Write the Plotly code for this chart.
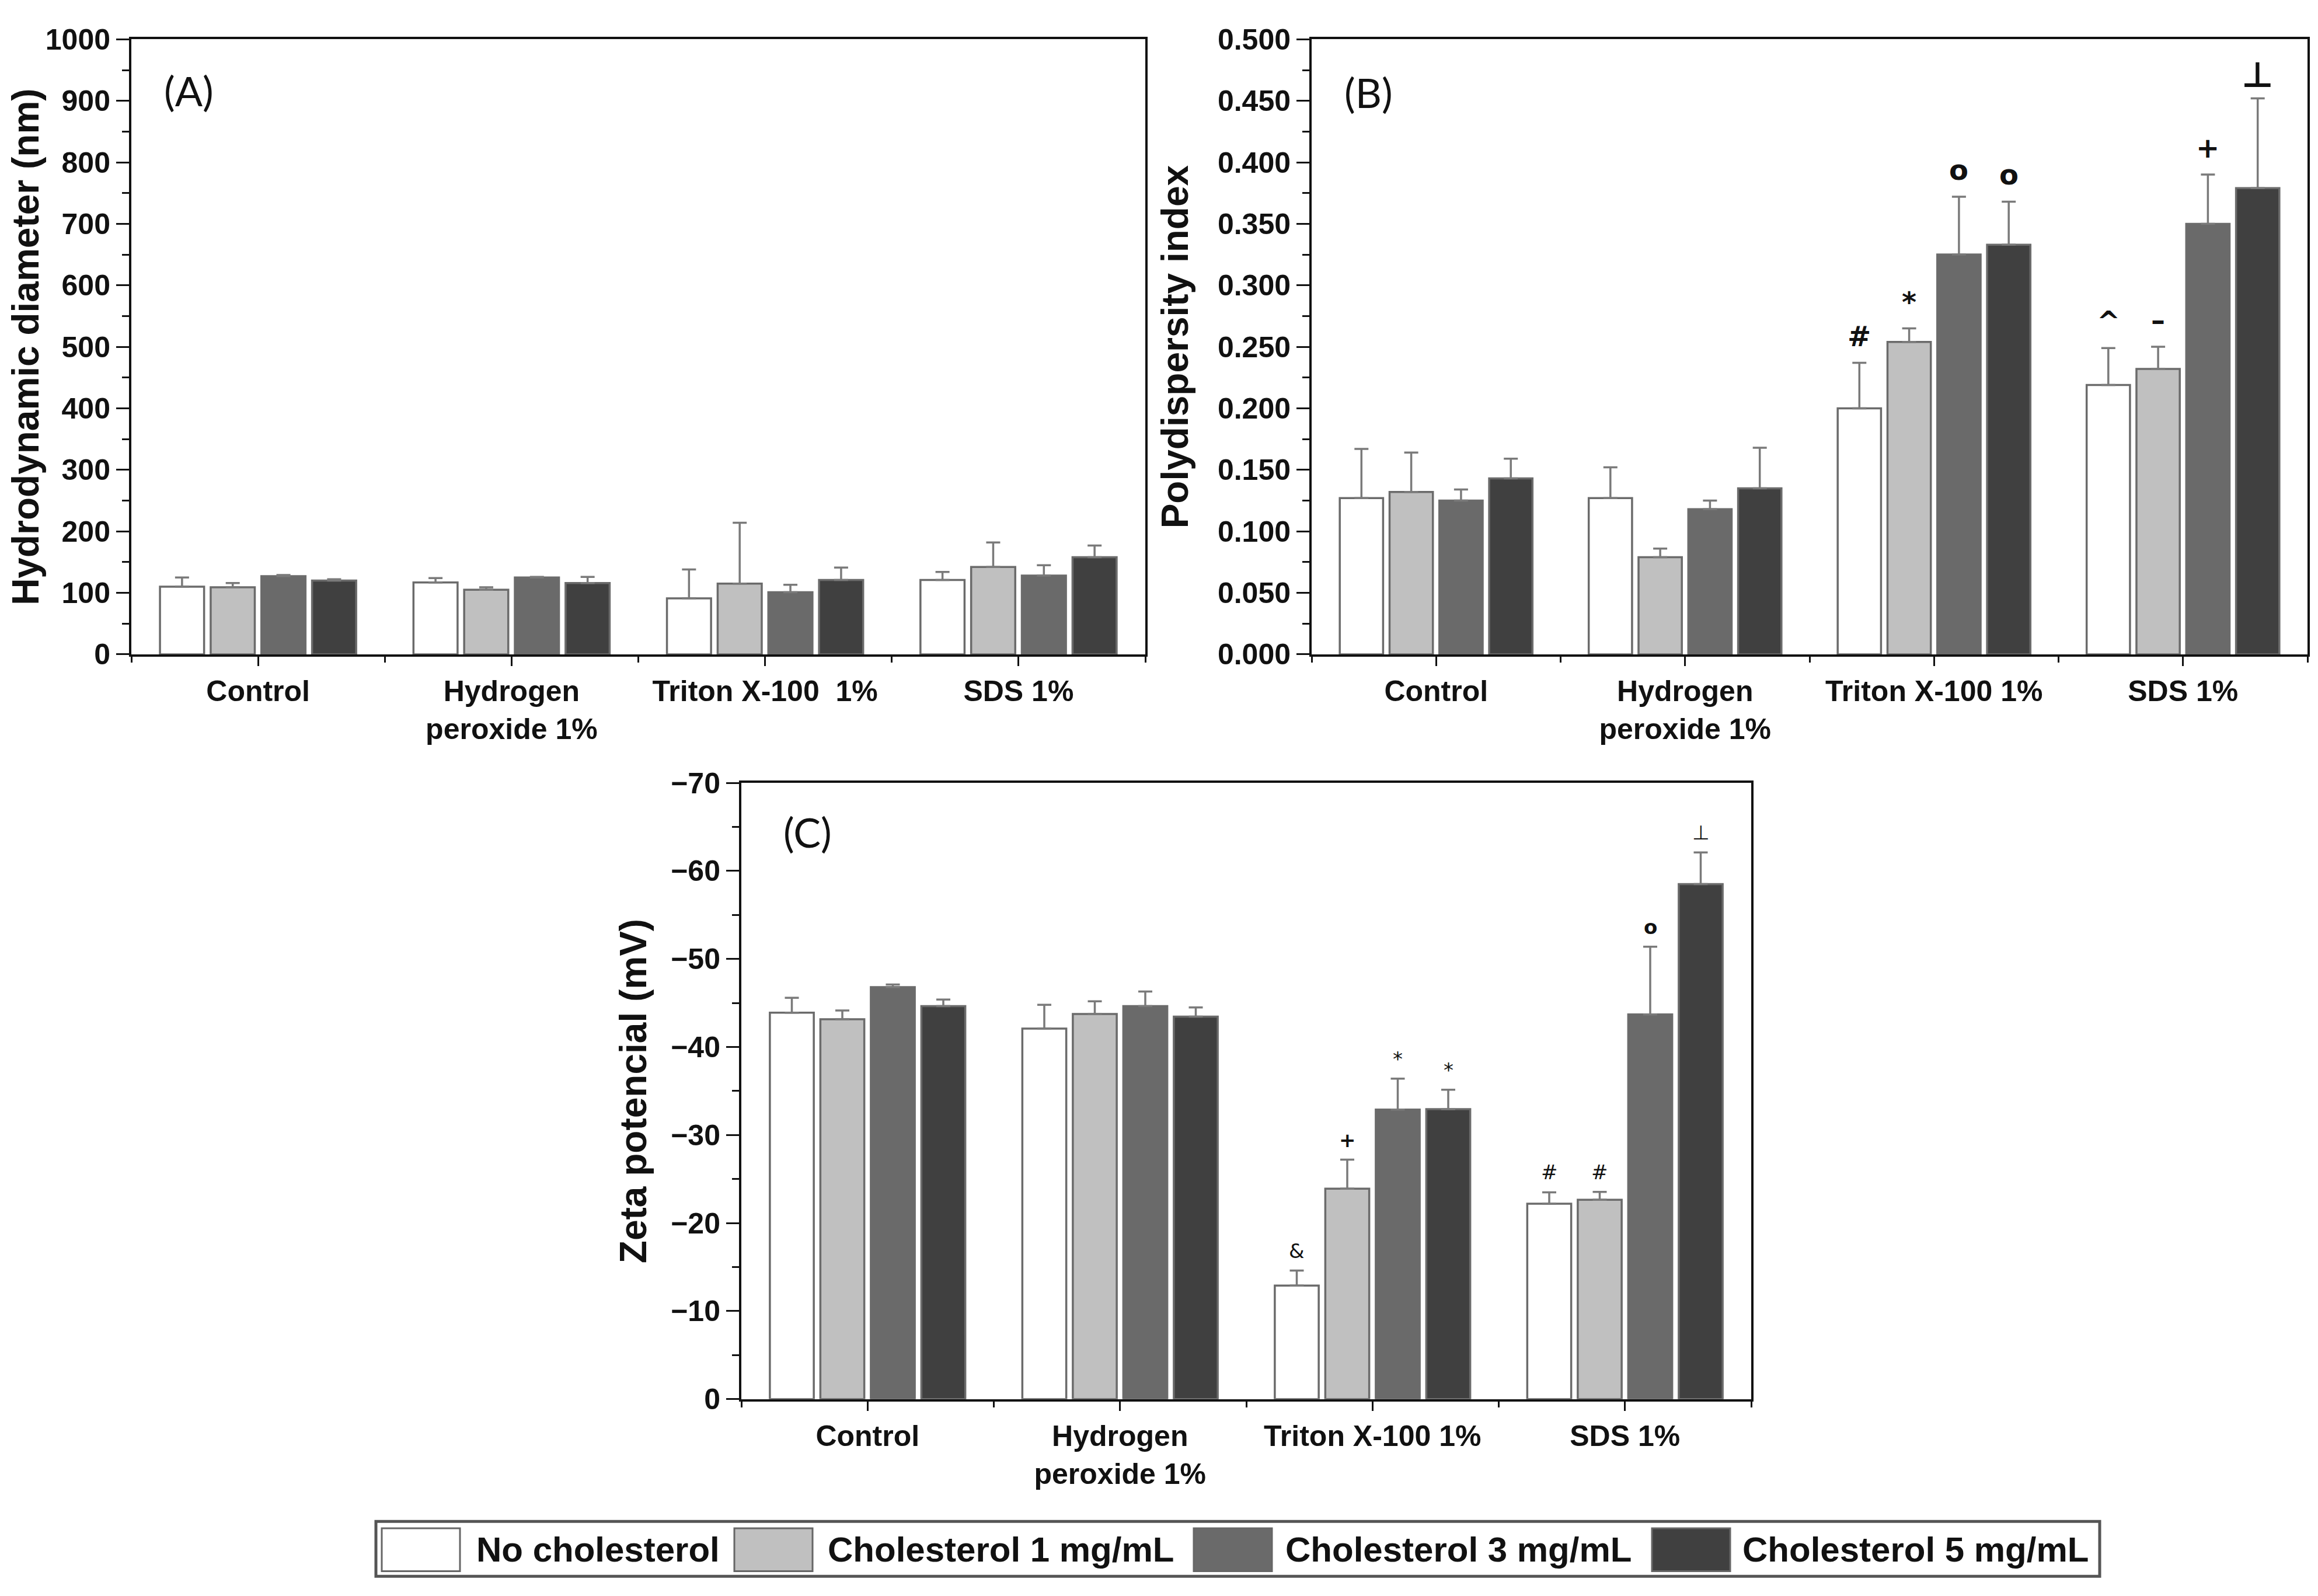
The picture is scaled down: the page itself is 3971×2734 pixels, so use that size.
import plotly.graph_objects as go

W, H = 3971, 2734

# ---- data ----
categories = ["Control", "Hydrogen<br>peroxide 1%", "Triton X-100 1%", "SDS 1%"]
categories_a = ["Control", "Hydrogen<br>peroxide 1%", "Triton X-100\u00a0 1%", "SDS 1%"]
series_names = ["No cholesterol", "Cholesterol 1 mg/mL", "Cholesterol 3 mg/mL", "Cholesterol 5 mg/mL"]
series_colors = ["#ffffff", "#c0c0c0", "#6a6a6a", "#404040"]

# (A) hydrodynamic diameter, nm
diam_no_chol = [110, 117, 91, 121]
diam_no_chol_err = [15, 7, 47, 13]
diam_chol1 = [109, 105, 115, 142]
diam_chol1_err = [7, 4, 99, 40]
diam_chol3 = [127, 125, 101, 128]
diam_chol3_err = [2, 1, 12, 17]
diam_chol5 = [120, 116, 121, 158]
diam_chol5_err = [2, 10, 20, 19]

# (B) polydispersity index
pdi_no_chol = [0.127, 0.127, 0.200, 0.219]
pdi_no_chol_err = [0.040, 0.025, 0.037, 0.030]
pdi_chol1 = [0.132, 0.079, 0.254, 0.232]
pdi_chol1_err = [0.032, 0.007, 0.011, 0.018]
pdi_chol3 = [0.125, 0.118, 0.325, 0.350]
pdi_chol3_err = [0.009, 0.007, 0.047, 0.040]
pdi_chol5 = [0.143, 0.135, 0.333, 0.379]
pdi_chol5_err = [0.016, 0.033, 0.035, 0.073]

# (C) zeta potential, mV
zeta_no_chol = [-43.9, -42.1, -12.9, -22.2]
zeta_no_chol_err = [1.7, 2.7, 1.7, 1.3]
zeta_chol1 = [-43.15, -43.75, -23.9, -22.65]
zeta_chol1_err = [1.0, 1.45, 3.3, 0.9]
zeta_chol3 = [-46.8, -44.65, -32.9, -43.7]
zeta_chol3_err = [0.3, 1.65, 3.5, 7.7]
zeta_chol5 = [-44.65, -43.45, -32.95, -58.5]
zeta_chol5_err = [0.75, 1.05, 2.2, 3.6]

# significance marks: (group, series, symbol)
marks_b = [(2, 0, "#"), (2, 1, "*"), (2, 2, "o"), (2, 3, "o"),
           (3, 0, "^"), (3, 1, "\u2013"), (3, 2, "+"), (3, 3, "\u22a5")]
marks_c = [(2, 0, "&"), (2, 1, "+"), (2, 2, "*"), (2, 3, "*"),
           (3, 0, "#"), (3, 1, "#"), (3, 2, "o"), (3, 3, "\u22a5")]

BOLD = "Arial, Liberation Sans, sans-serif"
xpos = list(range(len(categories)))
offsets = [-0.3, -0.1, 0.1, 0.3]


def px(x):
    return x / W


def py(y):
    return 1 - y / H


fig = go.Figure()

panels = [
    ("x", "y", [diam_no_chol, diam_chol1, diam_chol3, diam_chol5],
     [diam_no_chol_err, diam_chol1_err, diam_chol3_err, diam_chol5_err], False),
    ("x2", "y2", [pdi_no_chol, pdi_chol1, pdi_chol3, pdi_chol5],
     [pdi_no_chol_err, pdi_chol1_err, pdi_chol3_err, pdi_chol5_err], False),
    ("x3", "y3", [zeta_no_chol, zeta_chol1, zeta_chol3, zeta_chol5],
     [zeta_no_chol_err, zeta_chol1_err, zeta_chol3_err, zeta_chol5_err], True),
]

for xa, ya, vals, errs, negative in panels:
    for name, color, v, e in zip(series_names, series_colors, vals, errs):
        zeros = [0] * len(e)
        fig.add_trace(go.Bar(
            x=xpos, y=v, name=name, xaxis=xa, yaxis=ya, showlegend=False,
            marker=dict(color=color, line=dict(color="#6b6b6b", width=3.5)),
            error_y=dict(type="data", symmetric=False,
                         array=zeros if negative else e,
                         arrayminus=e if negative else zeros,
                         color="#7a7a7a", thickness=3.5, width=12),
        ))

axis_common = dict(showline=True, linewidth=4, linecolor="#111", mirror=True,
                   showgrid=False, zeroline=False, ticks="outside",
                   tickwidth=3, tickcolor="#111")
xaxis_common = dict(axis_common, range=[-0.5, 3.5], tickmode="array",
                    tickvals=xpos, ticklen=16,
                    tickfont=dict(family=BOLD, size=50, color="#111", weight="bold"),
                    minor=dict(tickmode="array", tickvals=[-0.5, 0.5, 1.5, 2.5, 3.5],
                               ticks="outside", ticklen=10, tickwidth=3, tickcolor="#111"))
title_font = dict(family=BOLD, size=64, color="#111", weight="bold")
ytick_font = dict(family=BOLD, size=50, color="#111", weight="bold")

fig.update_layout(
    width=W, height=H,
    margin=dict(l=0, r=0, t=0, b=0),
    paper_bgcolor="white", plot_bgcolor="white",
    barmode="group", bargap=0.2, bargroupgap=0.13,
    xaxis=dict(xaxis_common, domain=[px(217), px(1954)], anchor="y", ticktext=categories_a),
    yaxis=dict(axis_common, domain=[py(1108), py(32)], anchor="x", range=[0, 1000],
               dtick=100, ticklen=22, tickfont=ytick_font,
               title=dict(text="Hydrodynamic diameter (nm)", font=title_font, standoff=2),
               minor=dict(dtick=50, ticks="outside", ticklen=12, tickwidth=3, tickcolor="#111")),
    xaxis2=dict(xaxis_common, domain=[px(2239), px(3945)], anchor="y2", ticktext=categories),
    yaxis2=dict(axis_common, domain=[py(1108), py(32)], anchor="x2", range=[0, 0.5],
                dtick=0.05, tickformat=".3f", ticklen=22, tickfont=ytick_font,
                title=dict(text="Polydispersity index", font=title_font, standoff=30),
                minor=dict(dtick=0.025, ticks="outside", ticklen=12, tickwidth=3, tickcolor="#111")),
    xaxis3=dict(xaxis_common, domain=[px(1262), px(2992)], anchor="y3", ticktext=categories),
    yaxis3=dict(axis_common, domain=[py(2411), py(1333)], anchor="x3", range=[0, -70],
                dtick=10, ticklen=22, tickfont=ytick_font,
                title=dict(text="Zeta potencial (mV)", font=title_font, standoff=22),
                minor=dict(dtick=5, ticks="outside", ticklen=12, tickwidth=3, tickcolor="#111")),
)

# panel letters
for label, cx, cy in [("(A)", 315, 122), ("(B)", 2336, 125), ("(C)", 1375, 1419)]:
    fig.add_annotation(x=px(cx), y=py(cy), xref="paper", yref="paper", text=label,
                       showarrow=False, xanchor="center", yanchor="middle",
                       font=dict(family="Lato", size=70, color="#111"))

# significance marks above the error bars
vals_b, errs_b = panels[1][2], panels[1][3]
for g, s, sym in marks_b:
    big = sym == "\u22a5"
    fig.add_annotation(x=g + offsets[s], y=vals_b[s][g] + errs_b[s][g], xref="x2", yref="y2",
                       text=sym, showarrow=False, yanchor="middle", yshift=40 if big else 46,
                       font=dict(family="DejaVu Sans", size=60 if big else 48,
                                 color="#111", weight="bold"))
vals_c, errs_c = panels[2][2], panels[2][3]
for g, s, sym in marks_c:
    bold = sym in ("+", "o")
    fig.add_annotation(x=g + offsets[s], y=vals_c[s][g] - errs_c[s][g], xref="x3", yref="y3",
                       text=sym, showarrow=False, yanchor="middle", yshift=34,
                       font=dict(family="DejaVu Sans", size=34, color="#111",
                                 weight="bold" if bold else "normal"))

# legend drawn as a boxed row at the bottom
fig.add_shape(type="rect", xref="paper", yref="paper",
              x0=px(636), x1=px(3589), y0=py(2721), y1=py(2625),
              line=dict(color="#555", width=5), fillcolor="white")
swatch_x = [646, 1250, 2037, 2822]
text_x = [806, 1408, 2192, 2975]
for name, color, sx, tx in zip(series_names, series_colors, swatch_x, text_x):
    fig.add_shape(type="rect", xref="paper", yref="paper",
                  x0=px(sx), x1=px(sx + 134), y0=py(2712), y1=py(2637),
                  line=dict(color="#666", width=3), fillcolor=color)
    fig.add_annotation(x=px(tx), y=py(2674), xref="paper", yref="paper", text=name,
                       showarrow=False, xanchor="left", yanchor="middle",
                       font=dict(family=BOLD, size=60, color="#111", weight="bold"))

fig.write_html("out.html")
